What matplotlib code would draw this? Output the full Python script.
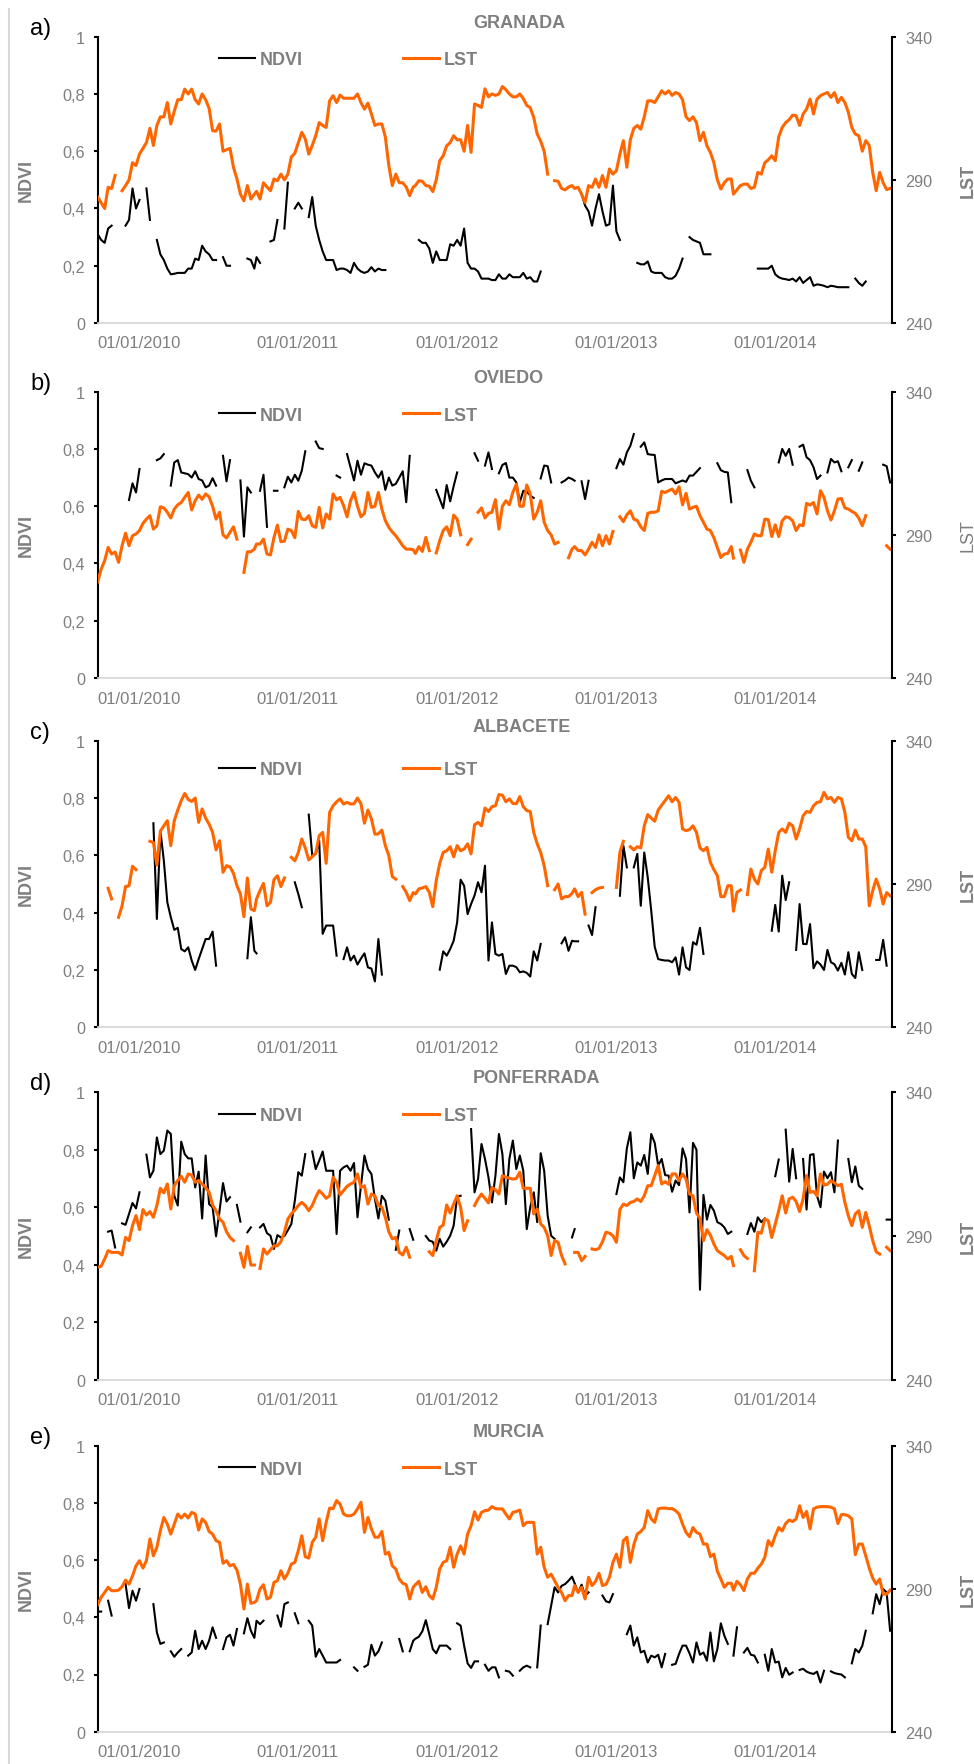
import numpy as np
import pandas as pd
import matplotlib
matplotlib.use('Agg')
import matplotlib.pyplot as plt
from matplotlib.lines import Line2D

plt.rcParams['font.family'] = ['Liberation Sans', 'DejaVu Sans']

N = None

# MODIS 8-day composites, 46 per year, 2010-2014
dates = pd.DatetimeIndex(np.concatenate(
    [pd.date_range(f'{y}-01-01', periods=46, freq='8D').values for y in range(2010, 2015)]))
years = pd.to_datetime([f'{y}-01-01' for y in range(2010, 2015)])

# ---- GRANADA ----
lst_granada = [
    284, 282, 280, 287.4, 287, 291.5, N, 286.2, 288, 290,
    296, 295, 299, 301, 303, 308, 302, 309, 312, 312,
    317, 309.5, 314, 318, 318, 321.7, 320, 321.7, 318, 316.5,
    320, 318, 315, 307.2, 307, 309.5, 300, 300.5, 301, 294.4,
    290.3, 285, 282.7, 288, 283.3, 285, 286, 283.3, 289, 287.5,
    286.2, 290.3, 289.7, 292, 290, 292, 298, 299.3, 303, 306.6,
    304.3, 299, 302, 305.4, 310, 309, 308.3, 317.6, 319.4, 317,
    319.6, 318.5, 318.5, 318.5, 318.5, 320, 317, 314.7, 316.8, 313,
    309, 309.5, 309.5, 305, 295, 288, 292, 289, 289, 287.5,
    284.5, 287.5, 288, 289.7, 289.5, 288, 287.8, 285.9, 290, 296.7,
    298.4, 301.9, 303, 305.4, 304, 304, 300, 309, 299.6, 316.5,
    316, 315.3, 321.8, 319, 320, 319.5, 320, 322.6, 321.5, 320,
    319, 319, 320, 318.4, 316, 315.2, 311.8, 306, 303.5, 300,
    292, N, 289.7, 289.5, 287, 286.5, 287.5, 288, 287, 287.4,
    285, 282.1, 288, 287.4, 290.3, 287.4, 291.5, 287.4, 293.8, 292,
    293.2, 299, 303.7, 294.4, 304, 308, 309, 307.7, 312, 317.6,
    317.6, 317, 319, 321.1, 320, 321.1, 319.5, 320.5, 320, 318,
    312, 310.7, 312, 310, 303.7, 306.6, 301.9, 299.6, 296, 290,
    286.8, 289, 290.3, 290.3, 285, 286.5, 288, 288.5, 288.5, 287,
    287.4, 292.6, 292, 296, 297, 298.4, 296.7, 305, 308.3, 310,
    311, 312.6, 312.4, 309, 313, 314.7, 318.2, 313, 318.2, 319.4,
    320, 320.5, 318.8, 320.5, 317, 318.8, 317, 313.6, 308.3, 306,
    305.4, 300, 303.7, 302, 292.6, 286.2, 292.6, 289, 286.6, 287,
]
ndvi_granada = [
    .31, .29, .28, .33, .34, N, N, N, .34, .36,
    .47, .40, .43, N, .47, .36, N, .29, .24, .22,
    .19, .17, .172, .175, .175, .175, .19, .19, .225, .22,
    .27, .25, .24, .22, .22, N, .23, .20, .20, N,
    N, N, N, .225, .22, .19, .23, .21, N, N,
    .285, .29, .36, N, .33, .49, N, .40, .42, .40,
    N, .37, .44, .34, .29, .25, .22, .22, .22, .185,
    .19, .19, .185, .175, .21, .19, .18, .175, .18, .195,
    .18, .19, .185, .185, N, N, N, N, N, N,
    N, N, N, .29, .28, .28, .26, .21, .25, .22,
    .22, .22, .275, .27, .29, .27, .33, .21, .19, .19,
    .18, .155, .155, .155, .15, .15, .17, .155, .155, .17,
    .16, .16, .16, .175, .155, .16, .145, .145, .18, N,
    N, N, N, N, N, N, N, N, N, N,
    .45, .41, .39, .34, .40, .45, .39, .34, .345, .48,
    .32, .29, N, N, N, N, .21, .205, .205, .215,
    .18, .175, .175, .175, .16, .155, .155, .165, .19, .225,
    N, .30, .29, .285, .28, .24, .24, .24, N, N,
    N, N, N, N, N, N, N, N, N, N,
    N, .19, .19, .19, .19, .20, .17, .16, .155, .153,
    .15, .155, .145, .16, .14, .15, .16, .13, .135, .133,
    .13, .125, .13, .128, .125, .125, .125, .125, N, .155,
    .14, .13, .145, N, N, N, N, N, N, N,
]

# ---- OVIEDO ----
lst_oviedo = [
    273.6, 278, 281, 285.6, 283.3, 284, 280.4, 286.2, 290.6, 286.2,
    289.7, 290.3, 291.5, 294, 295.5, 296.7, 292, 293.2, 299.8, 299.4,
    297.9, 295.9, 299, 300.5, 301.3, 303.1, 304.8, 298.7, 301.9, 303.9,
    302.4, 304.3, 303.3, 300, 295.5, 297.9, 290, 288.9, 290.9, 292.8,
    288.5, N, 276.9, 284.1, 284.1, 285, 286.8, 286.8, 288.5, 283.3,
    283, 289, 293.4, 287.6, 287.8, 292, 291.5, 289, 298.2, 295.5,
    295.3, 296.7, 293.2, 292.6, 299.6, 292.4, 297.3, 295.5, 304.3, 302.2,
    303.1, 300.2, 296.3, 301.9, 304.8, 300, 296.3, 297.5, 304.8, 299.6,
    300, 304.8, 299, 295, 292.6, 291, 289.7, 288, 286.2, 285,
    285, 284.8, 283.5, 285.9, 284.2, 289.1, 284.5, N, 283.7, 288,
    291.5, 292.8, 289.7, 296.9, 295.5, 290, N, 286.6, 288.5, N,
    297.9, 299.4, 295.9, 297.5, 297.9, 302.3, 292, 300, 301.9, 300.5,
    304.8, 307.7, 300, 300, 307.4, 304.3, 295.5, 297.9, 301.9, 294.4,
    291.5, 290, 286.8, 287.4, N, N, 282, 285, 285.9, 284.5,
    284.5, 283, 285, 287.4, 285.6, 290, 286.2, 289.7, 286.8, 291.2,
    N, 296.3, 294.6, 297, 298.4, 295.5, 295, 292.8, 291.5, 297.5,
    297.9, 297.9, 298.4, 305.2, 304.8, 305.4, 306, 304.3, 306.8, 300.5,
    304.5, 299, 299.6, 300, 296.7, 294.4, 292, 291.5, 289, 285.6,
    282.1, 283.3, 283.5, 285.9, 281.9, N, 284.7, 280.4, 285, 287.4,
    290.3, 289.7, 289.7, 295.5, 295.3, 289.4, 293.5, 289.4, 294.9, 296.3,
    296, 294.9, 291.5, 293.5, 293.2, 301, 300.4, 301.3, 297.3, 305.4,
    303.1, 298.4, 295.2, 298.4, 302.5, 302.7, 299.4, 299, 298.2, 297.5,
    295.9, 293.2, 296.7, N, N, N, N, N, 286.2, 285,
]
ndvi_oviedo = [
    N, N, N, N, N, N, N, N, N, .622,
    .68, .648, .73, N, N, N, N, .761, .767, .782,
    N, .672, .753, .761, .718, .715, .712, .70, .722, .695,
    .69, .666, .672, .698, .672, N, .776, .687, .761, N,
    N, .69, .494, .666, .648, N, N, .654, .71, .528,
    N, .654, .654, N, .666, .703, .683, .71, .689, .724,
    .792, N, N, .826, .803, .80, N, N, N, .707,
    .70, N, .782, .736, .69, .759, .71, .75, .745, .742,
    .718, .70, .722, .657, .70, .672, .678, .70, .722, .614,
    .776, N, N, N, N, N, N, N, .657, .625,
    .593, .674, .617, .67, .718, N, N, N, N, .785,
    .759, N, .742, .788, .73, N, .715, .744, .751, .70,
    .70, .683, .614, .654, .652, .637, .629, N, .697, .742,
    .74, .683, N, N, .683, .69, .70, .695, .689, N,
    .687, .625, .689, N, N, N, N, N, N, N,
    .733, .765, .745, .788, .811, .852, N, .808, .823, .782,
    .78, .779, .683, .69, .695, .695, .695, .68, .685, .69,
    .685, .707, .707, .72, .733, N, N, N, N, .75,
    .726, .72, .718, .614, N, N, N, N, .726, .689,
    .666, N, N, N, N, N, N, .753, .80, .776,
    .80, .745, N, .808, .815, .771, .761, .736, .695, .707,
    N, .718, .765, .753, .757, .722, N, .736, .761, N,
    .724, .753, N, N, N, N, N, .745, .74, .683,
]

# ---- ALBACETE ----
lst_albacete = [
    N, N, N, 288.5, 284.8, N, 278.4, 282.4, 289.1, 289.4,
    296.2, 295, N, N, N, 304.9, 304.5, 296.6, 308.4, 310.3,
    312.1, 303.4, 312.1, 315.8, 319.1, 321.6, 319.5, 318.8, 320, 311.5,
    316.2, 313, 310.9, 308, 301.9, 305.1, 294.1, 296.4, 296, 293.7,
    289.4, 286.5, 278.6, 292.1, 281.3, 280.7, 284.8, 287.7, 290.2, 282.4,
    283.6, 291.5, 292.9, 289.1, 292.1, N, 299.3, 298.1, 301, 305.7,
    302.6, 298.4, 299.5, 300.7, 306.9, 308, 297.2, 315, 317.3, 318.7,
    319.7, 317.9, 318.5, 317.9, 318, 320, 318, 311.2, 315.8, 312.7,
    307.4, 307.5, 308.8, 303.4, 299.9, 292.6, 291.7, N, 289.1, 287.1,
    284.2, 287, 286.5, 288.3, 288.6, 289.1, 287.1, 282.1, 291.2, 297.2,
    301, 301.6, 303, 299.5, 303.4, 301.6, 302.2, 304, 300.5, 310.7,
    311.5, 310.3, 316.5, 315.3, 317, 317.3, 321.2, 321, 318.7, 319.7,
    318.1, 318, 320.5, 317, 315.6, 315.3, 308, 304, 301, 296.4,
    289.4, N, 288, 290, 284.8, 285.6, 285.6, 286.7, 288.3, 285.6,
    287.1, 279.5, N, 287, 288, 288.6, 288.8, N, N, N,
    288.8, 301, 304.9, N, 303, 301.9, 303, 302.6, 310.3, 314.2,
    313, 311.9, 315.8, 317.5, 319.1, 320.8, 318.7, 320.2, 318.5, 309.2,
    308.6, 309, 310.3, 308, 302.6, 301.6, 302.8, 297.6, 295, 292.9,
    285.6, 285.6, 289.4, 289.4, 280.5, 287.1, 287.9, N, 286.3, 295.2,
    291.7, 290, 294.7, 295.8, 302.2, 294.1, 301.6, 308, 309.2, 308,
    311.2, 310.3, 305.7, 309.2, 313.8, 315.3, 315, 317.3, 318.5, 318.7,
    322, 319.7, 320.2, 318.5, 320.2, 319.7, 315, 306.3, 305.1, 308.8,
    305.7, 305.7, 303, 282.4, 287.7, 291.7, 288.3, 283, 287, 285.9,
]
ndvi_albacete = [
    N, N, N, N, N, N, N, N, N, N,
    N, N, N, N, N, N, .712, .378, .686, .581,
    .436, .384, .34, .347, .273, .265, .279, .233, .20, .238,
    .273, .308, .308, .334, .215, N, N, N, N, N,
    N, N, N, .241, .384, .267, .258, N, N, N,
    N, N, N, N, N, N, N, .506, .465, .419,
    N, .742, .599, .605, .651, .326, .355, .355, .355, .25,
    N, .238, .279, .233, .25, .219, .24, .258, .209, .205,
    .16, .308, .184, N, N, N, N, N, N, N,
    N, N, N, N, N, N, N, N, N, .201,
    .265, .25, .273, .302, .366, .515, .494, .395, .43, .46,
    .506, .471, .564, .233, .366, .256, .25, .256, .186, .215,
    .215, .21, .192, .195, .19, .177, .265, .233, .291, N,
    N, N, N, N, .293, .314, .267, .302, .30, .30,
    N, N, .355, .322, .419, N, N, N, N, N,
    N, .459, .634, .558, N, .558, .605, .424, .61, .523,
    .407, .281, .238, .235, .233, .233, .227, .244, .184, .279,
    .209, .20, .297, .288, .347, .256, N, N, N, N,
    N, N, N, N, N, N, N, N, N, N,
    N, N, N, N, N, .337, .427, .334, .529, .444,
    .506, N, .27, .43, .291, .29, .36, .206, .23, .219,
    .20, .27, .227, .22, .198, .225, .184, .262, .186, .172,
    .262, .20, N, N, N, .235, .235, .305, .215, N,
]

# ---- PONFERRADA ----
lst_ponferrada = [
    279.1, 279.5, 282, 284.9, 284.3, 284.3, 284.3, 283.4, 289.5, 288.4,
    293.6, 297.1, 292.2, 299.2, 297.3, 298.5, 296.5, 300.6, 306.6, 305,
    308.1, 299.4, 307.5, 309.3, 310.8, 308.7, 311.6, 311.2, 308.7, 309.3,
    308.1, 306.9, 305.2, 300.8, 298.8, 295.9, 294.8, 291.5, 289.5, 288.4,
    N, 284, 279.1, 286.4, 279.9, 279.9, N, 278.7, 285.5, 283.7,
    285.2, 286.6, 286.6, 288, 291.3, 295.9, 297.7, 299, 300.6, 301.7,
    300.6, 298.8, 300.6, 303.5, 305.8, 304.6, 303.1, 304, 310.4, 308.7,
    304.3, 305.8, 307.3, 308.1, 308.7, 311.6, 306.9, 307.5, 301.1, 304.6,
    304, 300.6, 300, 296.5, 291.5, 289, 289.5, 284.3, 283.4, 286.1,
    282.6, N, N, N, N, N, 284.5, 283.2, 288.4, 293,
    293.8, 300.8, 298, 301.1, 304, 300, 291.9, 295.3, N, 300.6,
    302.9, 304.6, 303.1, 301.5, 306.9, 306.1, 304.6, 311, 310.5, 310.1,
    309.8, 310, 312.2, 306.6, 306.6, 306.6, 297.7, 299.4, 294.2, 293,
    290.1, 283.2, 288.4, 287.8, 283.2, 280.3, N, N, 284.3, 284.3,
    281.4, 282.9, N, 285.5, 285.2, 285.7, 288, 291.3, 291, 290.1,
    287.8, 299.2, 301.1, 300.6, 301.7, 302, 302.9, 302, 304, 307.5,
    307.5, 311, 314.5, 308.1, 308.9, 308, 311.6, 311.6, 309.3, 311.6,
    309.8, 304.6, 304, 298, 296.1, 288.4, 292.2, 290.3, 287.2, 284.9,
    284, 283.2, 282, 282.9, 279.7, N, 285.2, 283.2, 282.2, N,
    277.9, 291.3, 291, 295.9, 295.3, 289.5, 294.2, 298.8, 304, 298,
    302.9, 303.5, 302, 298.5, 302.9, 311, 305.2, 305.5, 304, 311.6,
    307.7, 308, 309.3, 308.5, 307.5, 308, 301.7, 297, 293.6, 297.7,
    298.8, 293, 298.2, 293.6, 288.4, 284.5, 283.7, N, 286.1, 284.9,
]
ndvi_ponferrada = [
    N, N, N, .515, .519, .46, N, .544, .539, .577,
    .615, .596, .652, N, .783, .704, .727, .843, .785, .797,
    .867, .855, .64, .606, .828, .785, .77, .77, .669, .724,
    .561, .78, .611, .60, .499, .588, .684, .62, .635, N,
    .608, .55, N, .513, .53, N, N, .53, .542, .51,
    .501, .455, .503, .495, .50, .52, .542, .623, .722, .71,
    .785, N, .794, .733, .762, .794, .727, .727, .727, .507,
    .727, .739, .745, .727, .754, .565, .675, .78, .733, .716,
    .629, .561, .64, .623, .557, N, .452, .519, N, N,
    .524, .487, N, N, N, .50, .484, .48, .449, .49,
    .463, .48, .501, .536, .638, .64, N, N, .872, .652,
    .698, .82, .768, .704, .617, .71, .855, .785, .611, .768,
    .832, .733, .78, .727, .524, .60, .652, .548, .788, .727,
    .571, .501, .49, N, N, N, N, .495, .524, N,
    N, N, N, N, N, N, N, N, N, N,
    .646, .704, .687, .805, .861, .701, .756, .745, .782, .716,
    .855, .824, .745, .768, .712, .71, .654, .693, .677, .805,
    .768, .582, .824, .80, .313, .643, .557, .608, .588, .548,
    .542, .53, .507, .515, N, N, N, N, .507, .545,
    .515, .565, .548, .561, N, N, .708, .766, N, .87,
    .689, .803, .701, N, .768, .592, .782, .785, .64, .60,
    .724, .701, .722, .652, .832, N, N, .768, .687, .742,
    .675, .664, N, N, N, N, N, N, .557, .557,
]

# ---- MURCIA ----
lst_murcia = [
    284.4, 287, 288.7, 290.5, 289.3, 289.3, 289.5, 290.7, 293, 291.6,
    294.5, 298, 299.8, 297.2, 299.8, 307.4, 301.5, 304.5, 310.3, 314.9,
    312.6, 309.1, 312.6, 316.1, 314.7, 316.1, 314.7, 316.7, 316.1, 310.5,
    314.4, 313.2, 310, 309.1, 306.8, 306.2, 298.9, 299.8, 298, 298.5,
    296.5, 291.6, 282.9, 291.6, 284.9, 285.2, 285.8, 289.9, 291.4, 286.4,
    287, 292.2, 292.8, 296.3, 293.4, 295.4, 298.6, 299.2, 303.3, 308.5,
    301.2, 300.7, 306.2, 308, 314.4, 306.8, 313.2, 318.2, 318, 320.8,
    319.6, 316.1, 315.5, 315.5, 316.1, 317.9, 320.2, 309.7, 314.9, 310.9,
    308, 308, 310, 302.1, 302.7, 298, 296.9, 293.4, 291.9, 291.4,
    286.4, 290.5, 291.4, 292.6, 288.7, 290.7, 287.6, 286.4, 290.5, 296.9,
    299.2, 299.8, 304.5, 297.5, 302.1, 305, 302.1, 309.1, 312, 316.9,
    314, 316.7, 317.3, 317.5, 318.7, 318, 317.9, 317.9, 316.1, 314.4,
    316.7, 317, 317.5, 312, 313.2, 313.2, 313.2, 302.1, 304.5, 297.5,
    294, 295.1, 292.8, 290.5, 288.7, 285.8, 287.6, 287.6, 291.1, 288.7,
    290.5, 286.4, 294, 291.1, 292.5, 295.4, 291.1, 291.5, 294, 299.2,
    302.1, 297.5, 306.8, 308, 299.2, 305.4, 309.1, 310, 311.4, 317.3,
    314.4, 313.2, 317.9, 318.2, 318.2, 318, 318, 317.3, 316.1, 312.6,
    309.7, 308.2, 311.4, 309.7, 309.1, 305.6, 305.6, 301.2, 302.1, 296.1,
    293.4, 290.5, 291.9, 291.9, 289.5, 292.6, 291.4, 289.3, 293.4, 295.4,
    295.4, 297.2, 298.6, 301, 306.8, 305, 308.5, 311.4, 310.2, 312.8,
    314, 313.5, 314.4, 319, 314.9, 317, 310.9, 317.9, 318.5, 318.7,
    318.7, 318.7, 318.5, 317.9, 312.8, 315.9, 315.9, 315.5, 314.4, 301.9,
    305.6, 305.6, 301.5, 297.2, 293.7, 291.6, 293.4, 288.1, 288.1, 289.5,
]
ndvi_murcia = [
    .42, .42, N, .458, .406, N, N, N, .516, .432,
    .493, .458, .499, N, N, N, .446, .347, .307, .312,
    N, .281, .262, .277, .289, N, .266, .277, .353, .289,
    .318, .289, .318, .365, .328, N, .289, .33, .339, .301,
    .359, N, .344, .397, .353, .328, .388, .376, .388, N,
    N, N, .406, .367, .446, .452, N, .414, .379, N,
    N, .388, .371, .262, .289, .266, .242, .242, .242, .242,
    .251, N, N, N, .225, .213, N, .227, .234, .304,
    .266, .281, .312, N, N, N, N, .324, .281, N,
    .281, .318, .325, .332, .351, .39, .341, .289, .274, .301,
    .301, .301, .289, N, .379, .371, .301, .239, .223, .246,
    .246, N, .234, .213, .225, .225, .19, N, .213, .21,
    .196, N, .213, .225, .231, .225, N, .225, .371, N,
    .376, .441, .505, .487, .51, .516, .528, .542, .519, .487,
    .514, .476, .487, N, N, N, .476, .456, .452, .481,
    N, N, N, .341, .371, .301, .33, .277, .283, .242,
    .266, .26, .269, .225, .272, N, .234, .237, .272, .301,
    .301, .274, .242, .312, .269, .277, .248, .347, .246, .289,
    .379, .336, .307, N, .266, .365, N, .277, .293, .269,
    .266, .242, N, .269, .213, .289, .242, .245, .19, .223,
    .199, .207, N, .216, .22, .21, .205, .202, .21, .172,
    .213, N, .211, .205, .202, .20, .19, N, .239, .289,
    .277, .30, .353, N, .414, .481, .446, .499, .487, .353,
]

stations = ['GRANADA', 'OVIEDO', 'ALBACETE', 'PONFERRADA', 'MURCIA']
letters = ['a)', 'b)', 'c)', 'd)', 'e)']
ndvi_all = [ndvi_granada, ndvi_oviedo, ndvi_albacete, ndvi_ponferrada, ndvi_murcia]
lst_all = [lst_granada, lst_oviedo, lst_albacete, lst_ponferrada, lst_murcia]

GREY = '#7f7f7f'
ORANGE = '#ff6600'
W, H = 974, 1765
x0, x1 = 97.7, 892.3
tops = [37.7, 392.7, 741.7, 1093.3, 1446.7]
bots = [324.0, 679.0, 1028.3, 1380.7, 1732.7]
leg_y = [0.919, 0.918, 0.899, 0.918, 0.918]
lst_bold = [True, False, True, True, True]

fig = plt.figure(figsize=(W / 100, H / 100), dpi=100)

for i in range(5):
    top, bot = tops[i], bots[i]
    ax = fig.add_axes([x0 / W, 1 - bot / H, (x1 - x0) / W, (bot - top) / H])
    ax2 = ax.twinx()

    ax.plot(dates, np.array(ndvi_all[i], dtype=float), color='black', lw=1.5)
    ax2.plot(dates, np.array(lst_all[i], dtype=float), color=ORANGE, lw=2.2)

    ax.set_xlim(pd.Timestamp('2010-01-01'), pd.Timestamp('2015-01-01'))
    ax.set_ylim(0, 1)
    ax2.set_ylim(240, 340)

    ax.set_yticks([0, 0.2, 0.4, 0.6, 0.8, 1])
    ax.set_yticklabels(['0', '0,2', '0,4', '0,6', '0,8', '1'])
    ax2.set_yticks([240, 290, 340])
    ax2.set_yticklabels(['240', '290', '340'])
    ax.set_xticks(years)
    ax.set_xticklabels([d.strftime('%d/%m/%Y') for d in years], ha='left')

    ax.tick_params(axis='y', direction='out', length=3.2, width=1.5, color='black',
                   labelcolor=GREY, labelsize=11.7, pad=6)
    ax2.tick_params(axis='y', direction='out', length=3.2, width=1.5, color='black',
                    labelcolor=GREY, labelsize=11.7, pad=6)
    ax.tick_params(axis='x', length=0, labelcolor=GREY, labelsize=12, pad=9)

    for s in ['top', 'right']:
        ax.spines[s].set_visible(False)
    for s in ['top', 'left', 'bottom']:
        ax2.spines[s].set_visible(False)
    ax.spines['left'].set_linewidth(1.5)
    ax.spines['bottom'].set_color('#d9d9d9')
    ax.spines['bottom'].set_linewidth(1.3)
    ax2.spines['right'].set_linewidth(1.5)

    ax.set_ylabel('NDVI', fontsize=13, fontweight='bold', color=GREY)
    ax.yaxis.set_label_coords(-0.079, 0.5)
    ax2.set_ylabel('LST', fontsize=13, fontweight='bold' if lst_bold[i] else 'normal', color=GREY)
    ax2.yaxis.set_label_coords(1.085, 0.5)

    handles = [Line2D([], [], color='black', lw=1.5), Line2D([], [], color=ORANGE, lw=2.2)]
    ax2.legend(handles, ['NDVI', 'LST'], ncol=2, loc='center', bbox_to_anchor=(0.3156, leg_y[i]),
               frameon=False, handlelength=2.0, handletextpad=0.3, columnspacing=5.5,
               prop={'weight': 'bold', 'size': 13}, labelcolor=GREY,
               borderpad=0, borderaxespad=0)

    fig.text(473 / W, 1 - (top - 14.5) / H, stations[i], ha='left', va='center',
             fontsize=13, fontweight='bold', color=GREY)
    fig.text(30 / W, 1 - (top - 9) / H, letters[i], ha='left', va='center',
             fontsize=17, color='black')

# thin grey rule at the left edge of the figure
fig.add_artist(Line2D([9 / W, 9 / W], [0, 1 - 10 / H], transform=fig.transFigure,
                      color='#d9d9d9', lw=1.5))

fig.savefig('out.png', dpi=100)
